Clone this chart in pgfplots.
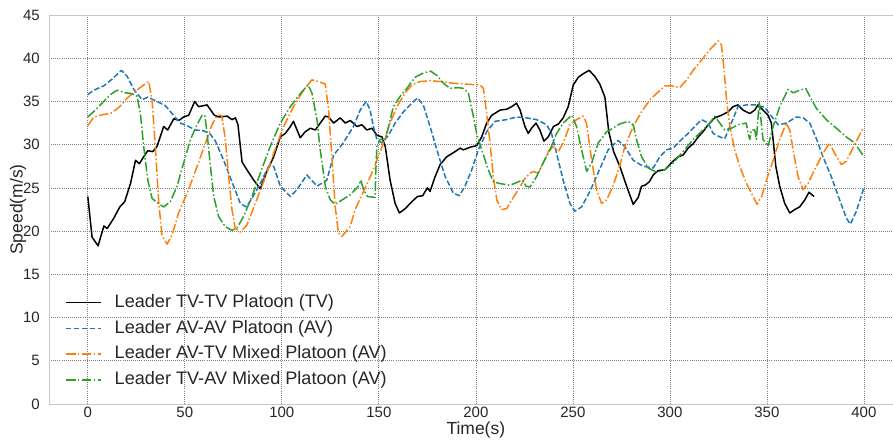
\documentclass[border=0pt]{standalone}
\usepackage{fontspec}
\setmainfont{Liberation Sans}
\usepackage{pgfplots}
\pgfplotsset{compat=1.18}
\definecolor{tabblue}{HTML}{1F77B4}
\definecolor{taborange}{HTML}{FF7F0E}
\definecolor{tabgreen}{HTML}{2CA02C}
\definecolor{txt}{HTML}{262626}
\begin{document}
\begin{tikzpicture}
\begin{axis}[
  name=ax,
  scale only axis,
  width=844pt, height=389pt,
  xmin=-20, xmax=415, ymin=0, ymax=45,
  xtick={0,50,...,400}, ytick={0,5,...,45},
  /pgf/number format/assume math mode=true,
  major tick length=0pt,
  axis line style={draw=black!22, line width=0.8pt},
  grid=major,
  major grid style={draw=black!50, line width=0.7pt, dash pattern=on 0.9pt off 1.2pt},
  ticklabel style={font=\fontsize{15}{18}\selectfont, text=txt},
  xticklabel style={inner sep=0pt, yshift=-3pt},
  yticklabel style={inner sep=0pt, xshift=-9pt},
  xlabel={Time(s)}, ylabel={Speed(m/s)},
  label style={font=\fontsize{17.5}{21}\selectfont, text=txt},
  xlabel style={at={(axis description cs:0.5057,0)}, anchor=north, inner sep=0pt, yshift=-17.5pt},
  ylabel style={at={(axis description cs:-0.0367,0.5)}, anchor=center, inner sep=0pt},
  legend cell align=left,
  legend style={at={(axis description cs:0.019,0.2874)}, anchor=north west, draw=none, fill=none, inner sep=0pt,
    nodes={inner sep=2pt, text height=13pt, text depth=3.5pt, font=\fontsize{18.1}{22}\selectfont, text=txt},
    row sep=5.2pt,
    /tikz/every odd column/.append style={column sep=11pt}},
  legend image code/.code={\draw[#1] (0pt,0pt) -- (35pt,0pt);},
  every axis plot/.append style={line width=1.5pt, line join=round},
]
\addplot[black, solid] coordinates {
(0,24.0) (2.2,19.3) (5.3,18.3) (8.3,20.6) (10,20.3) (13.4,21.5) (16.5,22.8) (19,23.4) (22,25.5) (24.6,28.2) (26.6,27.8) (28.8,28.6) (30.9,29.3) (33.5,29.2) (35.7,29.8) (39.1,32.1) (41.2,31.7) (44.3,33.0) (46.9,32.8) (49.4,33.2) (52,33.4) (55.1,35.0) (57.1,34.4) (59.4,34.5) (61.5,34.6) (65.2,33.4) (67.5,33.2) (71.8,33.3) (74.3,32.9) (76.1,33.1) (77.4,32.3) (79.5,28.0) (82,27.1) (85.5,25.9) (88.9,24.9) (92.3,26.9) (95.8,28.6) (99.2,30.9) (101.8,31.3) (104.4,32.1) (106,32.7) (109.5,30.8) (112.1,31.5) (114.7,31.9) (117.3,31.7) (119.8,32.5) (122.4,33.3) (124.1,33.2) (126.7,32.5) (130.1,33.1) (132.7,32.5) (135.3,32.8) (138.7,32.1) (141.3,32.3) (143.8,31.7) (146.4,31.9) (149,31.1) (151.6,30.9) (153.3,29.8) (155.8,25.9) (158.4,23.2) (160.6,22.1) (163.6,22.6) (167,23.4) (169.9,24.0) (172.6,24.1) (175,25.0) (176.4,24.6) (179,26.3) (181.6,27.7) (185,28.6) (189.3,29.2) (191.9,29.6) (193.6,29.4) (197,29.7) (200.5,29.9) (203,30.9) (205.6,32.5) (208.2,33.4) (212.5,34.0) (215.9,34.1) (218.5,34.4) (221,34.8) (222.8,34.0) (225.3,32.1) (227,31.3) (228.7,31.9) (231,32.5) (233,31.7) (235.1,30.4) (237.3,30.9) (240,32.1) (242.6,32.4) (245,33.1) (247.6,34.4) (250.2,36.9) (252.8,37.8) (255.3,38.2) (258.4,38.6) (261.3,37.9) (263.9,37.0) (266.5,35.5) (268.5,31.5) (271,29.2) (274.2,27.5) (277.7,25.2) (281.1,23.1) (283.7,23.9) (285.4,25.2) (287.1,25.3) (289.4,25.7) (291.4,26.5) (294,27.0) (297.4,27.1) (300,27.7) (301.7,28.1) (304.3,28.6) (306.8,28.8) (309.4,29.6) (312,30.1) (314.6,30.9) (317.1,31.5) (319.7,32.3) (323.1,33.1) (326.6,33.4) (330,33.8) (332.6,34.4) (335.1,34.6) (337.7,34.0) (341.2,33.6) (343.7,34.0) (345.4,34.6) (348,34.0) (350.6,33.4) (352.3,32.5) (353.2,30.6) (354.6,27.5) (356.6,25.2) (359.2,23.2) (361.8,22.1) (364.4,22.5) (366.9,22.8) (369.5,23.6) (371.7,24.5) (374.3,24.0)
};
\addlegendentry{Leader TV-TV Platoon (TV)}
\addplot[tabblue, dash pattern=on 5.5pt off 2.4pt] coordinates {
(0,35.8) (3.1,36.3) (8.2,36.8) (12.6,37.6) (17.3,38.6) (20.3,37.9) (23.7,36.4) (28,35.2) (30.9,35.5) (35.7,35.0) (40,34.5) (43.4,33.6) (47.7,32.5) (51.1,32.2) (55.4,31.7) (59.7,31.6) (62.8,31.3) (65.8,30.4) (70,28.2) (74.3,25.7) (78.6,23.2) (81.7,22.8) (84.6,23.8) (88.9,25.5) (93.2,27.5) (95.8,27.5) (99.2,25.2) (104.4,24.0) (107.8,24.8) (112.9,26.5) (118.1,25.2) (123.2,25.9) (126.7,28.8) (131,30.0) (133.6,30.9) (136.9,32.1) (140.4,34.0) (143.5,35.0) (145.5,34.0) (147.2,32.1) (149,30.6) (151.6,30.2) (155,31.1) (158.4,32.5) (162.7,33.8) (167,34.8) (169.9,35.4) (172.9,34.6) (176.4,32.1) (179.9,29.4) (184.2,26.3) (188.4,24.4) (191.5,24.1) (194.4,25.2) (197.9,27.1) (201.3,29.4) (205.6,31.5) (209.9,32.7) (215.9,32.9) (221,33.2) (226.2,33.1) (231.3,32.9) (236.5,32.3) (239,31.3) (241.6,29.0) (245,25.9) (248.5,23.2) (251,22.3) (254.5,22.8) (258.8,24.6) (263.9,27.2) (268.2,29.4) (273.3,30.5) (276.7,29.8) (281.1,28.2) (286.2,27.5) (291.4,27.3) (294.8,28.6) (298.3,29.4) (301.7,29.6) (305.1,30.4) (309.4,31.3) (312.8,32.1) (316.3,32.9) (319.7,32.5) (322.3,31.3) (325.7,30.9) (328.3,30.7) (331.7,32.5) (335.1,34.4) (339.4,34.6) (344.6,34.6) (348.9,34.3) (352.3,33.3) (355.8,32.3) (360,32.5) (365.2,33.2) (368.7,33.1) (372.1,32.5) (375.5,30.7) (378.9,28.6) (383.2,26.3) (387.5,23.6) (391,21.5) (393,20.8) (396.1,22.3) (400,25.0)
};
\addlegendentry{Leader AV-AV Platoon (AV)}
\addplot[taborange, dash pattern=on 9.6pt off 2.4pt on 1.5pt off 2.4pt] coordinates {
(0,32.2) (3.1,33.2) (8.2,33.5) (11.7,33.6) (16,34.3) (20.3,35.4) (24.6,36.2) (28.8,36.9) (31.4,37.3) (33.1,35.2) (34.9,29.4) (36.6,23.2) (38.3,19.4) (40.9,18.5) (43.5,19.6) (46.8,22.1) (51.2,24.4) (55.4,26.9) (59.7,29.6) (64,32.3) (66.6,33.4) (69,33.4) (70.9,30.6) (72.6,26.3) (74.3,22.5) (76,20.3) (78.6,19.9) (82,20.7) (86.3,23.2) (90.6,25.7) (95.8,29.0) (100.9,32.1) (106,34.4) (111.2,36.3) (115.5,37.5) (118.9,37.3) (122.4,37.0) (124.1,34.0) (125.8,28.6) (127.5,22.8) (129.2,19.8) (131,19.4) (135.2,20.5) (137.8,22.5) (142.1,24.6) (146.4,26.7) (149,28.2) (152.4,30.2) (155.8,32.5) (159.3,34.4) (163.6,36.0) (167,36.9) (171.3,37.3) (176.4,37.4) (181.6,37.3) (188.4,37.1) (195.2,37.0) (202.2,36.9) (203.9,36.5) (205.6,33.6) (207.3,30.2) (209,26.3) (210.8,23.6) (213.3,22.5) (215.9,22.6) (218.5,23.6) (221.9,24.8) (225.3,26.1) (227.9,26.7) (229.6,26.9) (232.2,26.7) (234.7,27.9) (237.3,29.2) (239.9,29.8) (242.5,29.2) (245,30.2) (248.5,32.3) (251.9,32.9) (255.3,33.3) (257,32.5) (259.7,28.2) (262.2,24.8) (264.8,23.2) (267.4,23.6) (270.8,25.3) (274.2,27.6) (276.8,29.8) (281.1,32.1) (285.4,33.8) (289.7,35.2) (294,36.1) (297.4,36.8) (300.9,36.8) (305.1,36.6) (308.6,37.5) (312,38.6) (316.3,39.8) (320.6,41.0) (324.9,42.0) (326.6,41.5) (327.8,39.0) (329.2,35.2) (330.9,32.1) (333.4,29.4) (336,27.5) (339.5,25.5) (342.9,24.0) (344.9,23.1) (347.3,24.0) (349.8,25.9) (353.2,28.2) (356.6,30.6) (360,32.5) (361.8,31.7) (363.5,29.4) (366.1,26.3) (368.6,24.8) (371.2,25.5) (374.6,27.1) (378.9,29.0) (382.3,30.2) (384.9,29.0) (388.4,27.7) (391,28.1) (394.3,29.6) (399.5,31.9)
};
\addlegendentry{Leader AV-TV Mixed Platoon (AV)}
\addplot[tabgreen, dash pattern=on 9.6pt off 2.4pt on 1.5pt off 2.4pt] coordinates {
(0,33.2) (3.9,34.0) (8.2,35.0) (11.7,35.8) (15.1,36.3) (19.4,36.0) (22.8,35.9) (25.4,35.6) (27.1,33.6) (28.8,29.8) (30.9,25.9) (33.1,23.8) (35.7,23.3) (39.1,22.8) (42.5,23.4) (46,25.2) (49.4,27.9) (52.9,30.6) (56.3,32.3) (58.9,33.4) (60.3,33.4) (61.5,31.3) (63.2,27.5) (64.9,24.0) (67.4,21.7) (70.9,20.5) (74.3,20.1) (77,20.4) (80.3,21.7) (84.6,24.0) (88.9,26.7) (94,29.8) (99.2,32.5) (104.4,34.4) (109.5,35.9) (113.5,36.9) (115.5,36.0) (118.1,32.9) (119.8,29.4) (122.4,25.2) (125,23.6) (127.5,23.1) (131,23.6) (135.2,24.2) (139.5,25.2) (140.7,25.9) (142.1,24.8) (144.2,24.0) (148.1,23.9) (148.4,26.7) (149,29.8) (150.6,30.6) (153.3,30.6) (155,32.1) (157.5,34.4) (161,35.6) (164.4,36.5) (168.7,37.8) (173,38.3) (176.8,38.5) (179.9,38.0) (183.3,37.1) (186.7,36.5) (191,36.6) (193.6,36.5) (196.1,36.0) (198.7,33.3) (200.4,31.3) (203,29.4) (206.4,27.1) (209,25.7) (212.5,25.5) (217.6,25.3) (221.9,25.7) (224.1,25.9) (225.8,25.2) (227.9,25.1) (231.3,26.3) (234.7,27.9) (238.2,29.4) (241.6,31.3) (245,32.5) (249.4,33.4) (251.9,32.1) (254.5,29.4) (257.1,26.9) (259.7,27.9) (263.1,30.2) (267.4,31.5) (269.1,31.7) (274.2,32.4) (278.5,32.7) (281.1,32.3) (282.8,30.6) (285.4,28.6) (288.8,27.3) (293.2,26.8) (297.4,27.1) (301.7,27.9) (306.8,29.2) (312,30.6) (317.1,31.7) (320.6,32.5) (323.1,33.3) (325.7,32.5) (328.3,31.7) (331.7,31.9) (335.1,32.3) (339.4,32.5) (340.3,31.3) (341.2,30.6) (342,31.7) (343.7,31.7) (344.6,30.6) (346,34.9) (347.3,32.1) (348,30.6) (350.6,29.8) (353.2,32.1) (356.6,34.4) (359.2,35.6) (360.9,36.4) (363.5,36.0) (366.9,36.3) (370,36.5) (372.1,35.6) (375.5,34.2) (380.6,32.9) (385.8,31.9) (390.9,30.9) (395.2,30.2) (400,28.6)
};
\addlegendentry{Leader TV-AV Mixed Platoon (AV)}
\end{axis}
\pgfresetboundingbox
\path ([xshift=-49pt,yshift=-38pt]ax.south west) rectangle ([yshift=15pt]ax.north east);
\end{tikzpicture}
\end{document}
